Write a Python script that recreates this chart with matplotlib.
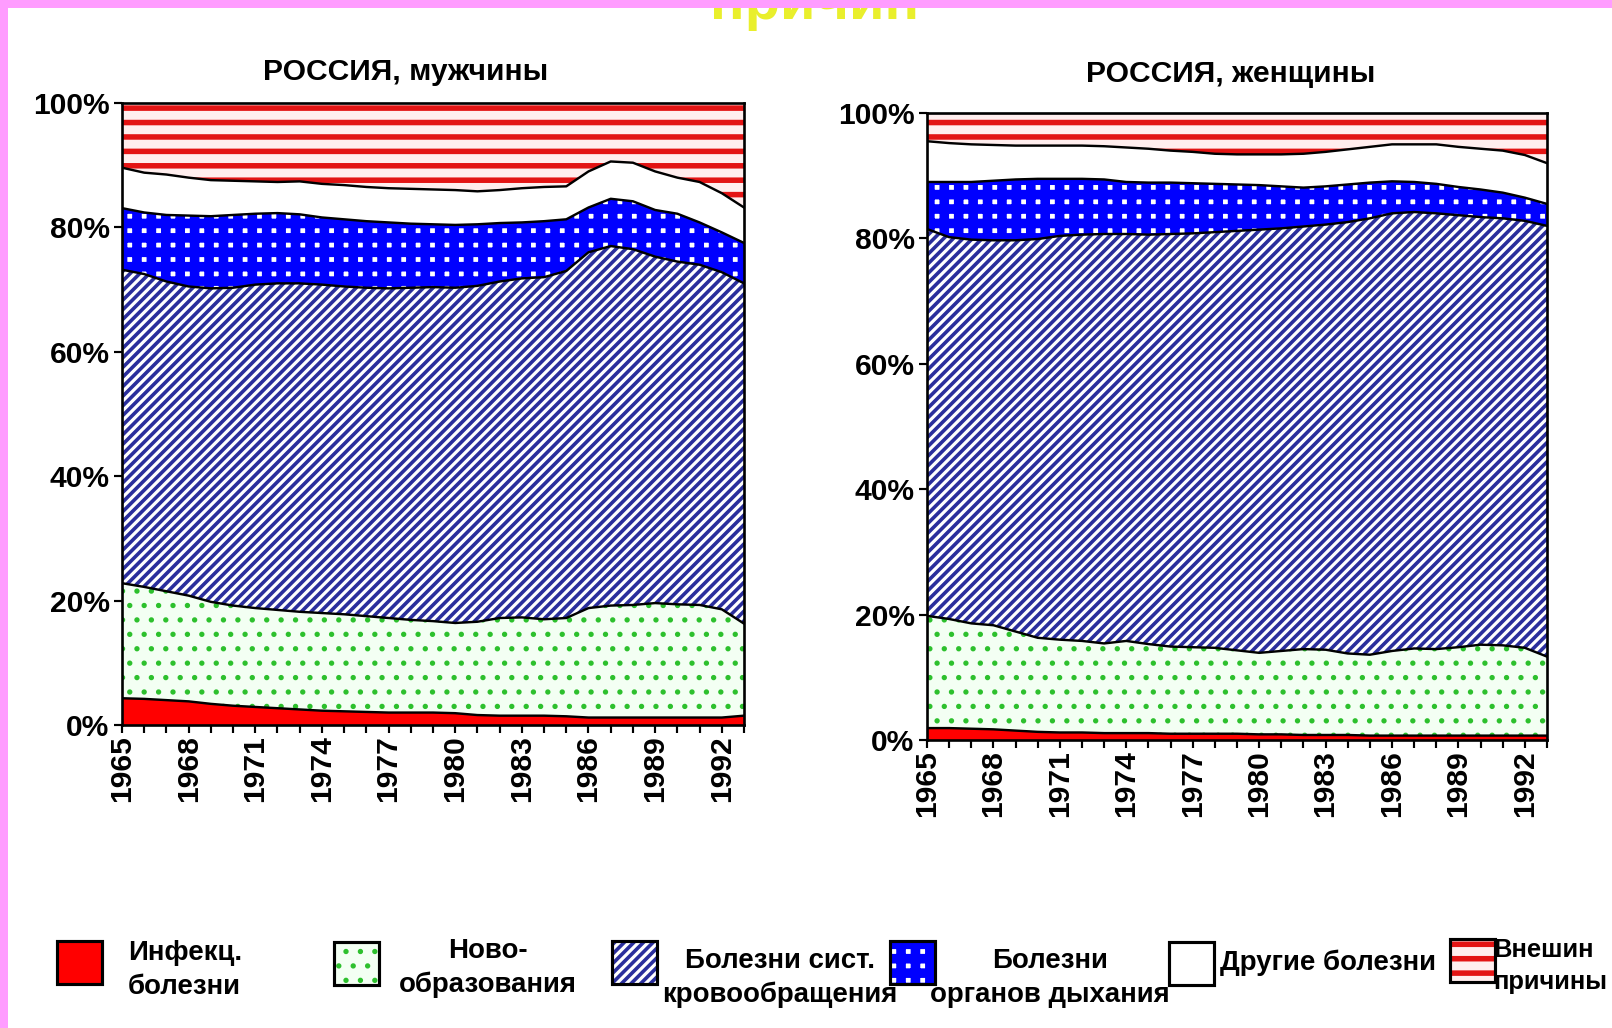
"""Structure of deaths by cause, Russia 1965-1993: men vs women (100% stacked areas)."""

import matplotlib
matplotlib.use("Agg")
import matplotlib.pyplot as plt
from matplotlib.patches import Rectangle
import numpy as np

DPI = 173
W, H = 1612, 1028

years = np.arange(1965, 1994)

# upper edge of each band, cumulative share of deaths (%), men
men_infect = [4.3, 4.2, 4.0, 3.8, 3.4, 3.1, 2.9, 2.7, 2.5, 2.3, 2.2, 2.1, 2.0, 2.0, 2.0,
              1.9, 1.6, 1.5, 1.5, 1.5, 1.4, 1.2, 1.2, 1.2, 1.2, 1.2, 1.2, 1.2, 1.5]
men_neo = [22.8, 22.2, 21.5, 20.8, 19.8, 19.2, 18.8, 18.5, 18.2, 18.0, 17.8, 17.5, 17.2, 16.9, 16.7,
           16.4, 16.6, 17.2, 17.3, 17.0, 17.2, 18.8, 19.2, 19.3, 19.6, 19.4, 19.3, 18.6, 16.3]
men_circ = [73.2, 72.5, 71.3, 70.5, 70.2, 70.3, 70.8, 71.0, 71.0, 70.8, 70.5, 70.3, 70.2, 70.3, 70.4,
            70.3, 70.6, 71.3, 71.8, 72.0, 73.0, 76.0, 77.0, 76.5, 75.3, 74.5, 74.0, 72.8, 71.0]
men_resp = [83.1, 82.4, 82.0, 81.9, 81.8, 82.0, 82.2, 82.3, 82.1, 81.6, 81.3, 81.0, 80.8, 80.6, 80.5,
            80.4, 80.5, 80.7, 80.8, 81.0, 81.3, 83.2, 84.6, 84.2, 82.8, 82.2, 80.8, 79.2, 77.5]
men_other = [89.6, 88.8, 88.5, 88.0, 87.6, 87.5, 87.4, 87.3, 87.4, 87.0, 86.8, 86.5, 86.3, 86.2, 86.1,
             86.0, 85.8, 86.0, 86.3, 86.5, 86.6, 89.0, 90.6, 90.4, 89.0, 88.0, 87.3, 85.5, 83.2]

# same for women
wom_infect = [1.9, 1.9, 1.8, 1.7, 1.5, 1.3, 1.2, 1.2, 1.1, 1.1, 1.1, 1.0, 1.0, 1.0, 1.0,
              0.9, 0.9, 0.8, 0.8, 0.8, 0.7, 0.7, 0.7, 0.7, 0.7, 0.7, 0.7, 0.7, 0.7]
wom_neo = [19.8, 19.3, 18.6, 18.3, 17.3, 16.3, 16.0, 15.8, 15.4, 15.8, 15.3, 14.9, 14.8, 14.7, 14.3,
           13.9, 14.2, 14.5, 14.4, 13.8, 13.6, 14.2, 14.6, 14.5, 14.8, 15.2, 15.1, 14.7, 13.3]
wom_circ = [81.5, 80.2, 79.8, 79.7, 79.7, 79.9, 80.4, 80.6, 80.7, 80.7, 80.6, 80.7, 80.8, 81.0, 81.2,
            81.4, 81.6, 81.9, 82.2, 82.6, 83.2, 84.0, 84.2, 84.0, 83.7, 83.4, 83.2, 82.8, 82.0]
wom_resp = [89.0, 89.0, 89.0, 89.2, 89.4, 89.5, 89.5, 89.5, 89.4, 89.0, 88.9, 88.9, 88.8, 88.7, 88.6,
            88.5, 88.3, 88.1, 88.3, 88.6, 88.9, 89.1, 89.0, 88.7, 88.2, 87.8, 87.3, 86.5, 85.5]
wom_other = [95.5, 95.2, 95.0, 94.9, 94.8, 94.8, 94.8, 94.8, 94.7, 94.5, 94.3, 94.0, 93.8, 93.5, 93.4,
             93.4, 93.4, 93.5, 93.8, 94.2, 94.6, 95.0, 95.0, 95.0, 94.6, 94.3, 94.0, 93.3, 92.0]

y_ticks = [0, 20, 40, 60, 80, 100]
band_keys = ["infect", "neo", "circ", "resp", "other", "ext"]
legend_labels = ["Инфекц.\nболезни", "Ново-\nобразования", "Болезни сист.\nкровообращения",
                 "Болезни\nорганов дыхания", "Другие болезни", "Внешин\nпричины"]

STYLES = {
    "infect": dict(face="#FF0000", hatch=None, hc="#FF0000", hlw=1.0),
    "neo": dict(face="#F3FFF3", hatch="..", hc="#2DC02D", hlw=1.0),
    "circ": dict(face="white", hatch="//////", hc="#2A2E9C", hlw=1.5),
    "resp": dict(face="white", hatch="++", hc="#0000FF", hlw=4.0),
    "other": dict(face="white", hatch=None, hc="white", hlw=1.0),
    "ext": dict(face="#FFEEEE", hatch="--", hc="#E31414", hlw=2.3),
}

plt.rcParams["font.family"] = ["Liberation Sans", "DejaVu Sans"]


def styled(make, st):
    with plt.rc_context({"hatch.linewidth": st["hlw"]}):
        p = make()
    if st["hatch"] and hasattr(p, "set_hatch_linewidth"):
        p.set_hatch_linewidth(st["hlw"])
    return p


def draw_panel(ax, tops):
    x = years.astype(float)
    edges = [np.zeros(len(x))] + [np.asarray(t, float) for t in tops] + [np.full(len(x), 100.0)]
    for k, key in enumerate(band_keys):
        lo, hi = edges[k], edges[k + 1]
        st = STYLES[key]
        xs = np.concatenate([x, x[::-1]])
        ys = np.concatenate([hi, lo[::-1]])
        styled(lambda: ax.fill(xs, ys, facecolor=st["face"], edgecolor=st["hc"],
                               linewidth=0, hatch=st["hatch"])[0], st)
    for t in tops:
        ax.plot(x, t, color="black", lw=1.0, solid_joinstyle="round")

    ax.set_xlim(1965, 1993)
    ax.set_ylim(0, 100)
    ax.set_yticks(y_ticks)
    ax.set_yticklabels([f"{v}%" for v in y_ticks], fontweight="bold")
    ax.set_xticks(years[::3])
    ax.set_xticklabels([str(v) for v in years[::3]], rotation=90, fontweight="bold")
    ax.set_xticks(years, minor=True)
    ax.tick_params(axis="both", which="both", direction="out", length=3.2, width=0.9,
                   color="black", labelsize=12.5, pad=2)
    ax.tick_params(axis="x", pad=1)
    for sp in ax.spines.values():
        sp.set_linewidth(1.1)
        sp.set_color("black")
        sp.set_zorder(5)


fig = plt.figure(figsize=(W / DPI, H / DPI), dpi=DPI, facecolor="white")

# overlay in pixel coordinates for the decorations and legend
ov = fig.add_axes([0, 0, 1, 1])
ov.set_xlim(0, W)
ov.set_ylim(H, 0)
ov.axis("off")

ax_m = fig.add_axes([122 / W, 1 - 725 / H, 622 / W, 622 / H])
ax_w = fig.add_axes([927 / W, 1 - 740 / H, 620 / W, 627 / H])
draw_panel(ax_m, [men_infect, men_neo, men_circ, men_resp, men_other])
draw_panel(ax_w, [wom_infect, wom_neo, wom_circ, wom_resp, wom_other])

ov.text(406, 72, "РОССИЯ, мужчины", ha="center", va="center", fontsize=12.5, fontweight="bold")
ov.text(1231, 74, "РОССИЯ, женщины", ha="center", va="center", fontsize=12.5, fontweight="bold")

# cut-off slide title and the pink frame
ov.text(815, 19, "причин", ha="center", va="baseline", fontsize=24, fontweight="bold",
        color="#E9EF2C", zorder=2)
ov.add_patch(Rectangle((0, 0), W, 8, facecolor="#FF9CFF", edgecolor="none", zorder=10))
ov.add_patch(Rectangle((0, 0), 8, H, facecolor="#FF9CFF", edgecolor="none", zorder=10))

# legend
boxes = [(57, 941), (334, 942), (612, 941), (890, 941), (1169, 942), (1450, 939)]
bw, bh = 45, 43
text_spec = [
    dict(x=128, y=970, ha="left", size=11.5),
    dict(x=488, y=968, ha="center", size=11.5),
    dict(x=780, y=978, ha="center", size=11.5),
    dict(x=1050, y=978, ha="center", size=11.5),
    dict(x=1220, y=963, ha="left", size=11.5),
    dict(x=1493, y=966, ha="left", size=10.6),
]
for key, (bx, by), lab, ts in zip(band_keys, boxes, legend_labels, text_spec):
    st = STYLES[key]
    styled(lambda: ov.add_patch(Rectangle((bx, by), bw, bh, facecolor=st["face"],
                                          edgecolor=st["hc"], linewidth=0, hatch=st["hatch"])), st)
    ov.add_patch(Rectangle((bx, by), bw, bh, facecolor="none", edgecolor="black", linewidth=1.3))
    ov.text(ts["x"], ts["y"], lab, ha=ts["ha"], va="center", fontsize=ts["size"],
            fontweight="bold", multialignment=ts["ha"], linespacing=1.4)

fig.savefig("out.png", dpi=DPI)
